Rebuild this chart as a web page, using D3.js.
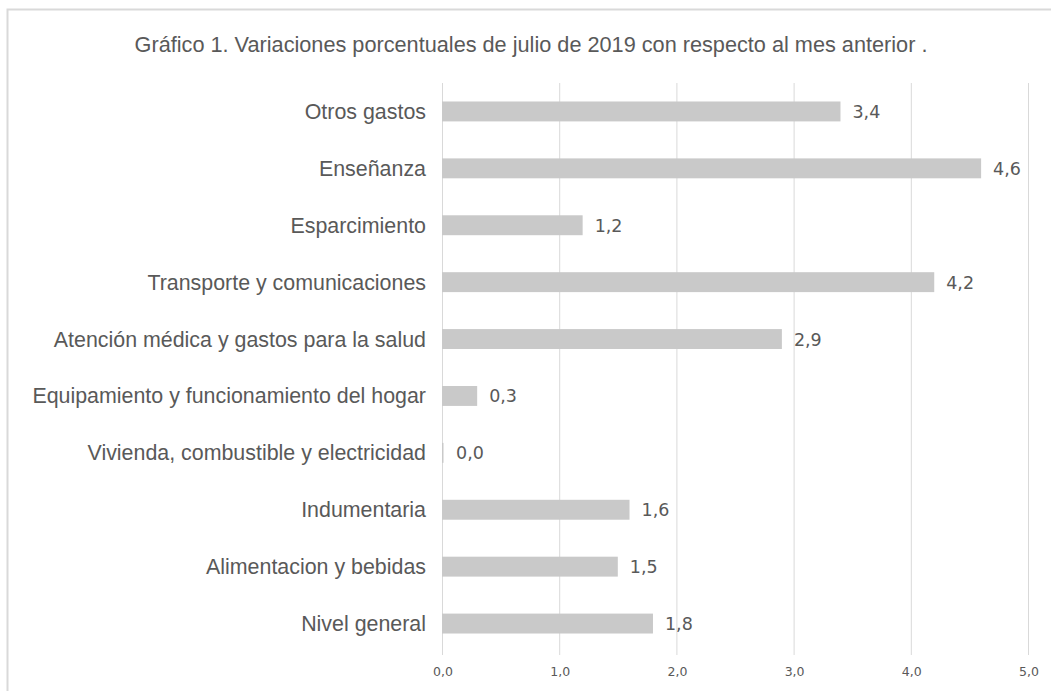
<!DOCTYPE html>
<html>
<head>
<meta charset="utf-8">
<script src="https://cdn.jsdelivr.net/npm/d3@7"></script>
<style>
  body { margin: 0; background: #fff; }
</style>
</head>
<body>
<div id="chart"></div>
<script>
// categories top to bottom, as in the picture
const categories = [
  "Otros gastos",
  "Enseñanza",
  "Esparcimiento",
  "Transporte y comunicaciones",
  "Atención médica y gastos para la salud",
  "Equipamiento y funcionamiento del hogar",
  "Vivienda, combustible y electricidad",
  "Indumentaria",
  "Alimentacion y bebidas",
  "Nivel general"
];
const values = [3.4, 4.6, 1.2, 4.2, 2.9, 0.3, 0.0, 1.6, 1.5, 1.8];
const ticks = [0, 1, 2, 3, 4, 5];
const title = "Gráfico 1. Variaciones porcentuales de julio de 2019 con respecto al mes anterior .";

const width = 1051;
const height = 691;
const textColor = "#595959";

const svg = d3.select("#chart")
  .append("svg")
  .attr("width", width)
  .attr("height", height);

// frame (right and bottom fall outside the picture)
svg.append("rect")
  .attr("x", 7.5)
  .attr("y", 9.5)
  .attr("width", 1060)
  .attr("height", 700)
  .attr("fill", "#fff")
  .attr("stroke", "#d9d9d9")
  .attr("stroke-width", 2);

svg.append("text")
  .attr("x", 531)
  .attr("y", 52)
  .attr("text-anchor", "middle")
  .attr("font-family", "Liberation Sans, Arial, sans-serif")
  .attr("font-size", 21.7)
  .attr("fill", textColor)
  .text(title);

const x = d3.scaleLinear().domain([0, 5]).range([442, 1028]);
const y = d3.scaleBand().domain(categories).range([83, 652]).paddingInner(0.65).paddingOuter(0.325);

// gridlines
svg.append("g")
  .selectAll("line")
  .data(ticks)
  .enter()
  .append("line")
  .attr("x1", d => x(d) + 0.5)
  .attr("x2", d => x(d) + 0.5)
  .attr("y1", 83)
  .attr("y2", 655)
  .attr("stroke", "#d9d9d9")
  .attr("stroke-width", 1);

// x tick labels
svg.append("g")
  .selectAll("text")
  .data(ticks)
  .enter()
  .append("text")
  .attr("x", d => x(d) + 1)
  .attr("y", 676)
  .attr("text-anchor", "middle")
  .attr("font-family", "DejaVu Sans, Verdana, sans-serif")
  .attr("font-size", 12.5)
  .attr("fill", textColor)
  .text(d => d3.format(".1f")(d).replace(".", ","));

// bars
svg.append("g")
  .selectAll("rect")
  .data(values)
  .enter()
  .append("rect")
  .attr("x", x(0))
  .attr("y", (d, i) => y(categories[i]))
  .attr("width", d => Math.max(x(d) - x(0), 1.5))
  .attr("height", y.bandwidth())
  .attr("fill", "#c9c9c9");

// value labels
svg.append("g")
  .selectAll("text")
  .data(values)
  .enter()
  .append("text")
  .attr("x", d => Math.max(x(d), x(0) + 2) + 12)
  .attr("y", (d, i) => y(categories[i]) + y.bandwidth() / 2 + 6.5)
  .attr("font-family", "DejaVu Sans, Verdana, sans-serif")
  .attr("font-size", 17.5)
  .attr("fill", textColor)
  .text(d => d3.format(".1f")(d).replace(".", ","));

// category labels
svg.append("g")
  .selectAll("text")
  .data(categories)
  .enter()
  .append("text")
  .attr("x", 426)
  .attr("y", d => y(d) + y.bandwidth() / 2 + 7.5)
  .attr("text-anchor", "end")
  .attr("font-family", "Liberation Sans, Arial, sans-serif")
  .attr("font-size", 21.4)
  .attr("fill", textColor)
  .text(d => d);
</script>
</body>
</html>
